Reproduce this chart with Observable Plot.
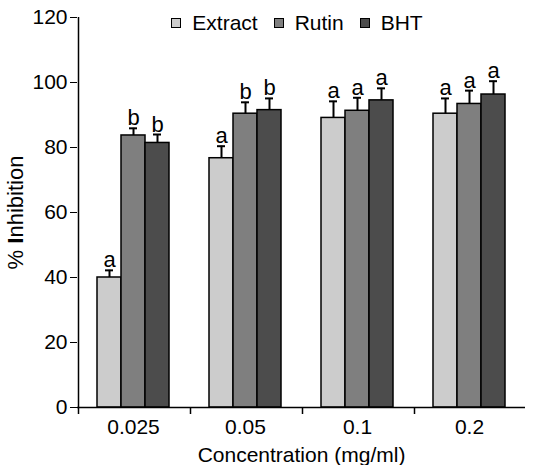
<!DOCTYPE html>
<html><head><meta charset="utf-8">
<script src="https://cdn.jsdelivr.net/npm/d3@7"></script>
<script src="https://cdn.jsdelivr.net/npm/@observablehq/plot@0.6"></script>
<style>
body{margin:0;background:#fff;}
#wrap{position:relative;width:545px;height:465px;font-family:"Liberation Sans",Arial,sans-serif;color:#000;}
#legend{position:absolute;left:73px;width:448px;top:12px;display:flex;justify-content:center;align-items:center;font-size:21px;line-height:22px;}
#legend .item{display:flex;align-items:center;margin:0 8px;}
#legend .sw{width:8px;height:8px;border:1.5px solid #000;margin-right:11px;}
</style></head><body><div id="wrap"><div id="legend"></div></div>
<script>
const concentrations = ["0.025", "0.05", "0.1", "0.2"];
const series = ["Extract", "Rutin", "BHT"];
const seriesColors = ["#cccccc", "#7f7f7f", "#4c4c4c"];
const extractValues = [40.0, 76.7, 89.1, 90.4];
const rutinValues = [83.7, 90.4, 91.3, 93.4];
const bhtValues = [81.4, 91.5, 94.5, 96.3];
const extractErrors = [2.2, 3.7, 5.1, 4.7];
const rutinErrors = [2.2, 3.5, 4.0, 4.1];
const bhtErrors = [2.6, 3.6, 3.7, 4.1];
const extractLetters = ["a", "a", "a", "a"];
const rutinLetters = ["b", "b", "a", "a"];
const bhtLetters = ["b", "b", "a", "a"];
const yTicks = [0, 20, 40, 60, 80, 100, 120];

const valueSets = [extractValues, rutinValues, bhtValues];
const errorSets = [extractErrors, rutinErrors, bhtErrors];
const letterSets = [extractLetters, rutinLetters, bhtLetters];
const rows = [];
concentrations.forEach((c, i) => series.forEach((s, j) => rows.push({
  conc: c, series: s, value: valueSets[j][i], err: errorSets[j][i], letter: letterSets[j][i]
})));

const W = 545, H = 465, mL = 77, mR = 20, mT = 17, mB = 58;
const padOuter = 0.74;
const step = (W - mL - mR) / concentrations.length / (series.length + 2 * padOuter);
const edgeOffset = -(padOuter + 0.5) * step;
const font = "'Liberation Sans', Arial, sans-serif";

const chart = Plot.plot({
  width: W, height: H,
  marginLeft: mL, marginRight: mR, marginTop: mT, marginBottom: mB,
  style: {fontFamily: font, fontSize: "21px", color: "#000", background: "#fff", overflow: "visible"},
  fx: {domain: concentrations, padding: 0},
  x: {domain: series, paddingInner: 0, paddingOuter: padOuter, axis: null},
  y: {domain: [0, 120]},
  color: {domain: series, range: seriesColors},
  marks: [
    Plot.barY(rows, {fx: "conc", x: "series", y: "value", fill: "series", stroke: "#000", strokeWidth: 1.5}),
    Plot.ruleX(rows, {fx: "conc", x: "series", y1: "value", y2: d => d.value + d.err, stroke: "#000", strokeWidth: 2}),
    Plot.tickY(rows, {fx: "conc", x: "series", y: d => d.value + d.err, stroke: "#000", strokeWidth: 2, insetLeft: 8, insetRight: 8}),
    Plot.text(rows, {fx: "conc", x: "series", y: d => d.value + d.err, text: "letter", lineAnchor: "bottom", dy: -3, fontSize: 22}),
    Plot.ruleY([0], {stroke: "#000", strokeWidth: 1.5}),
    Plot.ruleX(concentrations, {fx: d => d, x: () => series[0], y1: 0, y2: 0, insetBottom: -7, dx: edgeOffset, stroke: "#000", strokeWidth: 1.5}),
    Plot.ruleX([concentrations[0]], {fx: d => d, x: () => series[0], y1: 0, y2: 120, dx: edgeOffset, stroke: "#000", strokeWidth: 1.5}),
    Plot.axisY({ticks: yTicks, tickSize: 7, tickPadding: 3, fontSize: 21, label: "% Inhibition", labelAnchor: "center", labelOffset: 70, labelArrow: "none"}),
    Plot.axisFx({anchor: "bottom", tickSize: 0, tickPadding: 12, fontSize: 21, label: "Concentration (mg/ml)", labelAnchor: "center", labelOffset: 54, labelArrow: "none"})
  ]
});
document.getElementById("wrap").prepend(chart);
const ylab = d3.select(chart).select("[aria-label='y-axis label']");
ylab.style("font-size", "22px");
ylab.selectAll("text").each(function () {
  const t = d3.select(this);
  const s = t.text();
  if (s.startsWith("% I")) {
    t.text(null);
    t.append("tspan").text("% ");
    t.append("tspan").attr("font-weight", "bold").text("I");
    t.append("tspan").text(s.slice(3));
  }
});

const legend = document.getElementById("legend");
series.forEach((s, j) => {
  const item = document.createElement("div");
  item.className = "item";
  const sw = document.createElement("span");
  sw.className = "sw";
  sw.style.background = seriesColors[j];
  const t = document.createElement("span");
  t.textContent = s;
  item.append(sw, t);
  legend.append(item);
});
</script></body></html>
